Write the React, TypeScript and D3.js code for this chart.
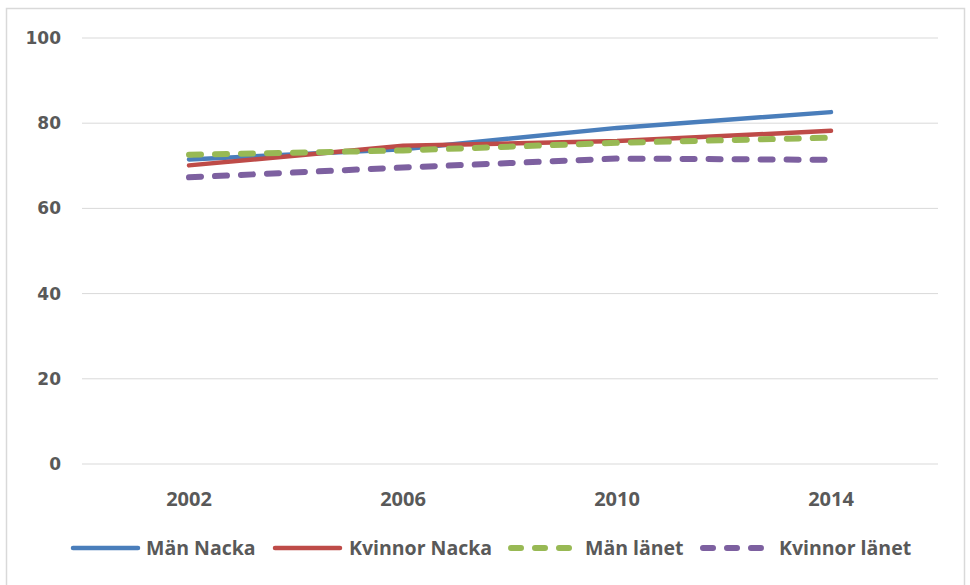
import React from "react";
import * as d3 from "d3";

const years = ["2002", "2006", "2010", "2014"];
const manNacka = [71.5, 73.9, 78.9, 82.6];
const kvinnorNacka = [70.1, 74.7, 75.8, 78.2];
const manLanet = [72.6, 73.6, 75.4, 76.6];
const kvinnorLanet = [67.3, 69.6, 71.7, 71.4];
const yTicks = [0, 20, 40, 60, 80, 100];

const series = [
  { name: "Män Nacka", values: manNacka, color: "#4a7ebb", dash: null, width: 4.5 },
  { name: "Kvinnor Nacka", values: kvinnorNacka, color: "#be4b48", dash: null, width: 4.5 },
  { name: "Män länet", values: manLanet, color: "#98b954", dash: "12 14", width: 6 },
  { name: "Kvinnor länet", values: kvinnorLanet, color: "#7d60a0", dash: "12 14", width: 6 },
];

const W = 970;
const H = 585;
const left = 82;
const right = 938;
const top = 38;
const bottom = 464;

export default function App() {
  const x = d3.scalePoint<string>().domain(years).range([left, right]).padding(0.5);
  const y = d3.scaleLinear().domain([0, 100]).range([bottom, top]);
  const line = d3
    .line<number>()
    .x((_, i) => x(years[i]) as number)
    .y((d) => y(d));

  const font = "'Open Sans', 'DejaVu Sans', sans-serif";
  const yFont = "'DejaVu Sans', sans-serif";
  const textColor = "#595959";

  const legendItems = [
    { lx: 70, tx: 146 },
    { lx: 272, tx: 349 },
    { lx: 508, tx: 585 },
    { lx: 700, tx: 779 },
  ];
  const legendY = 548;

  return (
    <svg
      width={W}
      height={H}
      style={{ position: "absolute", left: 0, top: 0, background: "#fff" }}
    >
      <rect x={6.5} y={8.5} width={958} height={H + 10} fill="#fff" stroke="#d9d9d9" strokeWidth={1.5} />
      {yTicks.map((t) => (
        <g key={t}>
          <line x1={left} x2={right} y1={y(t)} y2={y(t)} stroke="#d9d9d9" strokeWidth={1} />
          <text
            x={61}
            y={y(t)}
            dy="0.35em"
            textAnchor="end"
            fontFamily={yFont}
            fontWeight="bold"
            fontSize={17}
            fill={textColor}
          >
            {t}
          </text>
        </g>
      ))}
      {years.map((yr) => (
        <text
          key={yr}
          x={x(yr)}
          y={499}
          dy="0.35em"
          textAnchor="middle"
          fontFamily={font}
          fontWeight="bold"
          fontSize={20}
          fill={textColor}
        >
          {yr}
        </text>
      ))}
      {series.map((s) => (
        <path
          key={s.name}
          d={line(s.values) || ""}
          fill="none"
          stroke={s.color}
          strokeWidth={s.width}
          strokeLinecap="round"
          strokeLinejoin="round"
          strokeDasharray={s.dash || undefined}
        />
      ))}
      {series.map((s, i) => (
        <g key={s.name}>
          <line
            x1={legendItems[i].lx + 3}
            x2={legendItems[i].lx + 68}
            y1={legendY}
            y2={legendY}
            stroke={s.color}
            strokeWidth={s.dash ? 6 : 4.5}
            strokeLinecap="round"
            strokeDasharray={s.dash ? "10 14" : undefined}
          />
          <text
            x={legendItems[i].tx}
            y={legendY}
            dy="0.35em"
            fontFamily={font}
            fontWeight="bold"
            fontSize={19.5}
            fill={textColor}
          >
            {s.name}
          </text>
        </g>
      ))}
    </svg>
  );
}
